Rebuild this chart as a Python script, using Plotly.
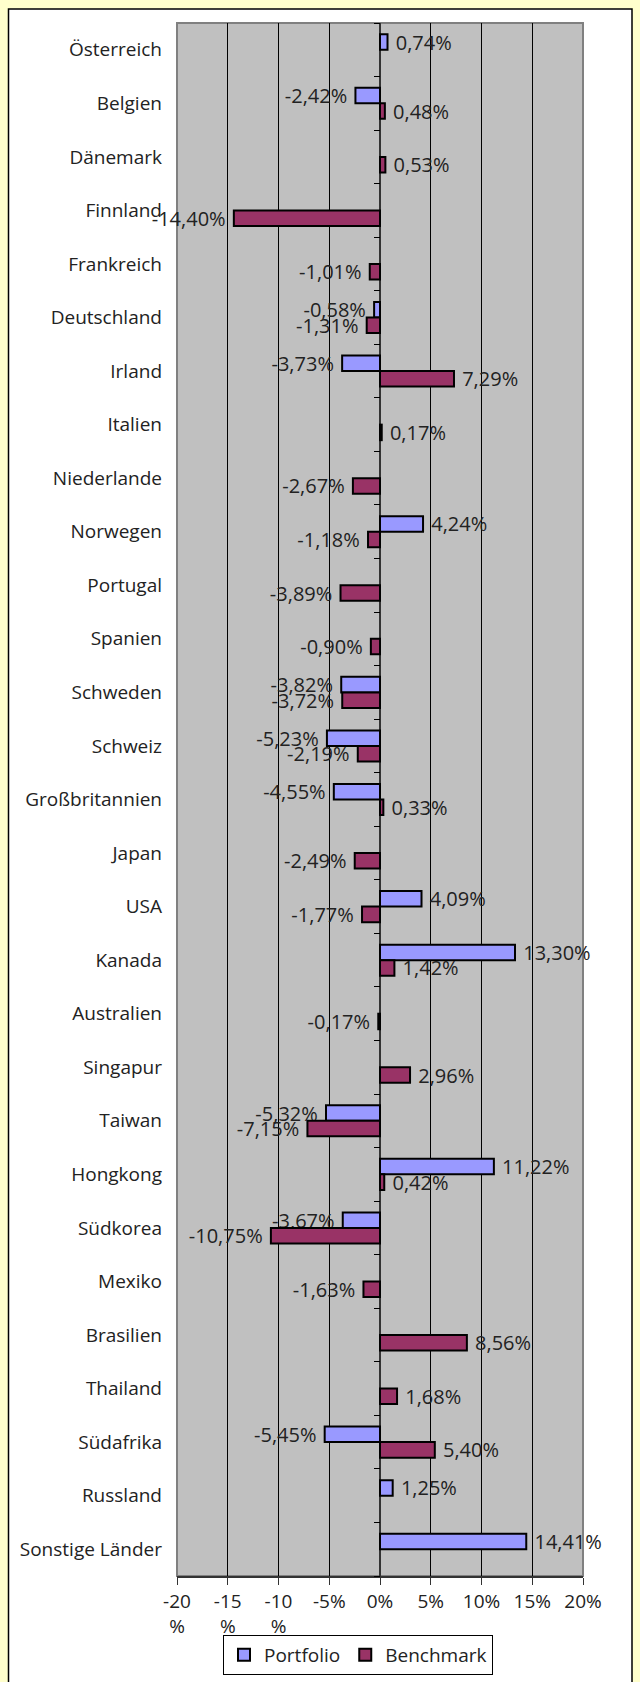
import plotly.graph_objects as go

# ---------------------------------------------------------------------------
# Daten: Abweichung je Land, Portfolio vs. Benchmark (in %)
# ---------------------------------------------------------------------------

countries = [
    "Österreich", "Belgien", "Dänemark", "Finnland", "Frankreich", "Deutschland",
    "Irland", "Italien", "Niederlande", "Norwegen", "Portugal", "Spanien",
    "Schweden", "Schweiz", "Großbritannien", "Japan", "USA", "Kanada",
    "Australien", "Singapur", "Taiwan", "Hongkong", "Südkorea", "Mexiko",
    "Brasilien", "Thailand", "Südafrika", "Russland", "Sonstige Länder",
]

portfolio = [
    0.74, -2.42, None, None, None, -0.58,
    -3.73, None, None, 4.24, None, None,
    -3.82, -5.23, -4.55, None, 4.09, 13.30,
    None, None, -5.32, 11.22, -3.67, None,
    None, None, -5.45, 1.25, 14.41,
]

benchmark = [
    None, 0.48, 0.53, -14.40, -1.01, -1.31,
    7.29, 0.17, -2.67, -1.18, -3.89, -0.90,
    -3.72, -2.19, 0.33, -2.49, -1.77, 1.42,
    -0.17, 2.96, -7.15, 0.42, -10.75, -1.63,
    8.56, 1.68, 5.40, None, None,
]

x_ticks = [-20, -15, -10, -5, 0, 5, 10, 15, 20]
x_tick_labels = ["-20<br>%", "-15<br>%", "-10<br>%", "-5%", "0%", "5%", "10%", "15%", "20%"]

FONT = "Open Sans"
TXT = "#222222"
W, H = 640, 1682
L, R, T, B = 177, 57, 23, 106
PW, PH = W - L - R, H - T - B


def px_x(x):
    # Pixel -> Papierkoordinate (x)
    return (x - L) / PW


def px_y(y):
    # Pixel -> Papierkoordinate (y)
    return (T + PH - y) / PH


def bar_label(v):
    # deutsches Zahlenformat, etwas Abstand zum Balkenende
    if v is None:
        return ""
    s = f"{v:.2f}%".replace(".", ",")
    return " " + s if v >= 0 else s + " "


fig = go.Figure()

for name, vals, color in [("Portfolio", portfolio, "#9999FF"),
                          ("Benchmark", benchmark, "#993366")]:
    fig.add_trace(go.Bar(
        name=name,
        y=countries,
        x=vals,
        orientation="h",
        marker=dict(color=color, line=dict(color="black", width=2)),
        text=[bar_label(v) for v in vals],
        textposition="outside",
        constraintext="none",
        cliponaxis=False,
        textfont=dict(family=FONT, size=20, color=TXT),
        hoverinfo="skip",
    ))

# unsichtbare Spur, damit die Achse mit den Teilstrichen bei 0 gezeichnet wird
n = len(countries)
fig.add_trace(go.Scatter(x=[None], y=[None], yaxis="y2", showlegend=False, hoverinfo="skip"))

fig.update_layout(
    width=W, height=H,
    margin=dict(l=L, r=R, t=T, b=B, autoexpand=False),
    paper_bgcolor="#FFFFCC",
    plot_bgcolor="rgba(0,0,0,0)",
    separators=",.",
    barmode="group",
    bargap=0.42,
    bargroupgap=0,
    font=dict(family=FONT, size=19, color=TXT),
    legend=dict(
        orientation="h", traceorder="normal",
        x=px_x(358), xanchor="center",
        y=px_y(1635), yanchor="top",
        bgcolor="white", bordercolor="black", borderwidth=1,
        font=dict(family=FONT, size=19, color=TXT),
        itemwidth=30, tracegroupgap=0,
    ),
    xaxis=dict(
        range=[-20, 20], tickvals=x_ticks, ticktext=x_tick_labels,
        showgrid=True, gridcolor="black", gridwidth=1,
        zeroline=True, zerolinecolor="#333333", zerolinewidth=1.5,
        showline=True, linecolor="#333333", linewidth=2,
        ticks="outside", ticklen=7, tickcolor="#333333",
        tickfont=dict(family=FONT, size=19, color=TXT),
        automargin=False,
    ),
    yaxis=dict(
        range=[n - 0.5, -0.5], type="category",
        showgrid=False, zeroline=False, showline=False,
        ticks="", ticklabelstandoff=14,
        tickfont=dict(family=FONT, size=19, color=TXT),
        automargin=False,
    ),
    yaxis2=dict(
        overlaying="y", anchor="free", position=0.5, side="left",
        range=[n - 0.5, -0.5],
        tickvals=[i + 0.5 for i in range(-1, n)],
        showticklabels=False, ticks="outside", ticklen=6, tickcolor="black",
        tickwidth=1.2,
        showgrid=False, zeroline=False, showline=False,
        automargin=False,
    ),
    shapes=[
        # weißer Diagrammbereich mit schwarzem Rahmen
        dict(type="rect", xref="paper", yref="paper", layer="below",
             x0=px_x(8.5), x1=px_x(632), y0=px_y(1700), y1=px_y(9),
             fillcolor="white", line=dict(color="black", width=1.5)),
        # grauer Zeichnungsbereich
        dict(type="rect", xref="paper", yref="paper", layer="below",
             x0=0, x1=1, y0=0, y1=1,
             fillcolor="#C0C0C0", line=dict(color="#808080", width=2)),
    ],
)

fig.write_html(
    "out.html",
    config={"displayModeBar": False},
    post_script="document.body.style.margin='0';",
)
